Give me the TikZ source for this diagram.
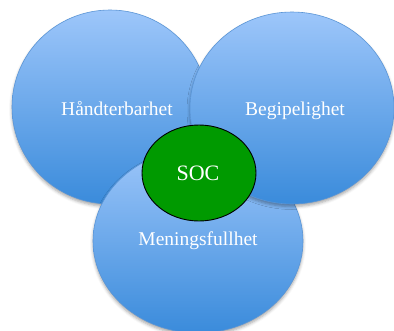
\documentclass[tikz,border=0pt]{standalone}
\usepackage{fontspec}
\setmainfont{Liberation Serif}
\usetikzlibrary{shadows.blur}
\definecolor{ctop}{HTML}{9DC6FA}
\definecolor{cbot}{HTML}{3A8BDB}
\definecolor{cedge}{HTML}{5A95D6}
\definecolor{cgreen}{HTML}{009A00}
\tikzset{
  bubble/.style={top color=ctop, bottom color=cbot, draw=cedge, line width=0.6pt,
    blur shadow={shadow xshift=0pt, shadow yshift=-2.5pt, shadow blur radius=3pt, shadow opacity=35}},
  lbl/.style={text=white, font=\fontsize{19.5}{22}\selectfont, anchor=base, inner sep=0pt},
}
\begin{document}
\begin{tikzpicture}[x=1pt,y=-1pt]
\useasboundingbox (0,0) rectangle (394,330);
\begin{scope}
\clip (0,0) rectangle (394,330);
\path[bubble] (110,107) ellipse [x radius=98, y radius=97];
\path[bubble] (198,241) ellipse [x radius=105, y radius=92];
\path[bubble] (292,108) ellipse [x radius=102, y radius=96];
\end{scope}
\draw[fill=cgreen, draw=black, line width=0.9pt] (199,173) ellipse [x radius=57, y radius=48];
\node[lbl] (h) at (117,115) {Håndterbarhet};
\node[lbl] (b) at (295,115) {Begipelighet};
\node[lbl, font=\fontsize{22}{24}\selectfont] (s) at (198,180) {SOC};
\node[lbl] (m) at (198,245) {Meningsfullhet};
\end{tikzpicture}
\end{document}
